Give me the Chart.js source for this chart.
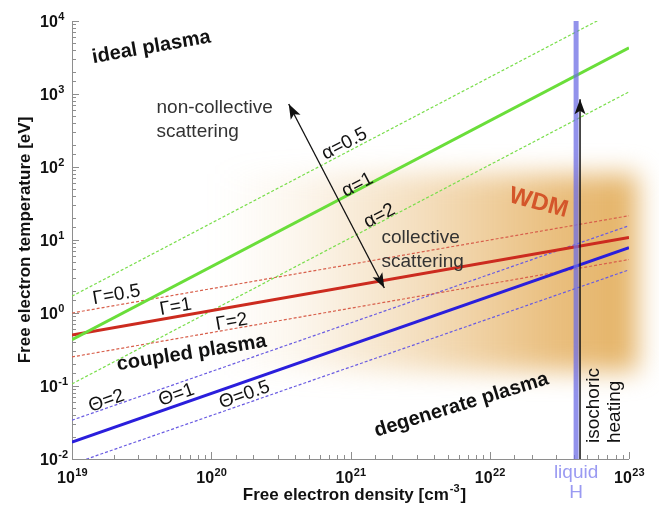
<!DOCTYPE html>
<html>
<head>
<meta charset="utf-8">
<script src="https://cdn.jsdelivr.net/npm/chart.js@4.4.1/dist/chart.umd.min.js"></script>
<style>
  html, body { margin: 0; padding: 0; background: #fff; }
  #wrap { position: relative; width: 659px; height: 508px; }
</style>
</head>
<body>
<div id="wrap"><canvas id="wdmChart"></canvas></div>
<script>
// WDM phase diagram: free electron temperature vs density, log-log

// density end points of the parameter lines [cm^-3]
const densityEnds = [1e19, 1e23];

// scattering parameter alpha (green) [eV]
const alphaHalf = [1.7, 17000];
const alphaOne = [0.43, 4300];
const alphaTwo = [0.107, 1070];

// coupling parameter Gamma (red)
const gammaHalf = [1.0, 21.5];
const gammaOne = [0.5, 10.8];
const gammaTwo = [0.25, 5.4];

// degeneracy parameter Theta (blue)
const thetaTwo = [0.034, 15.7];
const thetaOne = [0.017, 7.85];
const thetaHalf = [0.0085, 3.9];

// liquid hydrogen + isochoric heating path
const liquidN = [4.17e22, 4.17e22];
const liquidT = [0.01, 10000];
const heatingN = [4.45e22, 4.45e22];
const heatingT = [0.01, 850];

// scattering regime arrow
const regimeN = [3.6e20, 1.75e21];
const regimeT = [730, 2.2];

// WDM shaded region
const wdmN = [1.1e20, 1.15e23];
const wdmT = [0.16, 80];

// tick labels (powers of ten)
const xTickExp = [19, 20, 21, 22, 23];
const yTickExp = [-2, -1, 0, 1, 2, 3, 4];

const FONT = '"Liberation Sans", Arial, sans-serif';

function pts(xs, ys) { return xs.map((x, i) => ({ x: x, y: ys[i] })); }

function series(label, xs, ys, color, width, dash) {
  return { label, data: pts(xs, ys), borderColor: color, borderWidth: width, borderDash: dash || [],
           showLine: true, pointRadius: 0, fill: false, borderCapStyle: 'butt' };
}

// text notes, positions as log10(n), log10(T)
const notes = [
  { t: 'ideal plasma', lx: 19.57, ly: 3.64, rot: -10, f: 'bold 20px' },
  { t: 'non-collective', lx: 19.607, ly: 2.74, f: '19px', align: 'left', base: 'alphabetic', c: '#333' },
  { t: 'scattering', lx: 19.607, ly: 2.411, f: '19px', align: 'left', base: 'alphabetic', c: '#333' },
  { t: 'α=0.5', lx: 20.957, ly: 2.315, rot: -27.7, f: '19px' },
  { t: 'α=1', lx: 21.05, ly: 1.753, rot: -27.7, f: '19px' },
  { t: 'α=2', lx: 21.208, ly: 1.329, rot: -27.7, f: '19px' },
  { t: 'collective', lx: 21.223, ly: 0.959, f: '19px', align: 'left', base: 'alphabetic', c: '#333' },
  { t: 'scattering', lx: 21.223, ly: 0.63, f: '19px', align: 'left', base: 'alphabetic', c: '#333' },
  { t: 'WDM', lx: 22.35, ly: 1.507, rot: 15, f: 'bold 24px', c: '#d4562a' },
  { t: 'Γ=0.5', lx: 19.32, ly: 0.247, rot: -10, f: '19px' },
  { t: 'Γ=1', lx: 19.744, ly: 0.082, rot: -10, f: '19px' },
  { t: 'Γ=2', lx: 20.146, ly: -0.123, rot: -10, f: '19px' },
  { t: 'coupled plasma', lx: 19.859, ly: -0.548, rot: -9, f: 'bold 20px' },
  { t: 'Θ=2', lx: 19.248, ly: -1.205, rot: -19.3, f: '19px' },
  { t: 'Θ=1', lx: 19.751, ly: -1.123, rot: -19.3, f: '19px' },
  { t: 'Θ=0.5', lx: 20.239, ly: -1.123, rot: -19.3, f: '19px' },
  { t: 'degenerate plasma', lx: 21.797, ly: -1.26, rot: -17, f: 'bold 20px' },
  { t: 'isochoric', lx: 22.788, ly: -1.781, rot: -90, f: '19px', align: 'left', base: 'alphabetic' },
  { t: 'heating', lx: 22.938, ly: -1.781, rot: -90, f: '19px', align: 'left', base: 'alphabetic' },
  { t: 'liquid', lx: 22.62, ly: -2.26, f: '19px', base: 'alphabetic', c: '#9a9af2' },
  { t: 'H', lx: 22.62, ly: -2.534, f: '19px', base: 'alphabetic', c: '#9a9af2' }
];

const isMajor = v => Math.abs(Math.log10(v) - Math.round(Math.log10(v))) < 1e-6;

function arrowHead(ctx, x0, y0, x1, y1) {
  const a = Math.atan2(y1 - y0, x1 - x0), L = 15, W = 5.5;
  ctx.save();
  ctx.translate(x1, y1); ctx.rotate(a);
  ctx.beginPath();
  ctx.moveTo(0, 0); ctx.lineTo(-L, -W); ctx.lineTo(-L + 3.5, 0); ctx.lineTo(-L, W); ctx.closePath();
  ctx.fillStyle = '#111'; ctx.fill();
  ctx.restore();
}

const decor = {
  id: 'decor',
  beforeDatasetsDraw(chart) {
    const ctx = chart.ctx, xs = chart.scales.x, ys = chart.scales.y;
    const { left, right, top, bottom } = chart.chartArea;
    // WDM glow
    const x0 = xs.getPixelForValue(wdmN[0]), x1 = xs.getPixelForValue(wdmN[1]);
    const y0 = ys.getPixelForValue(wdmT[1]), y1 = ys.getPixelForValue(wdmT[0]);
    ctx.save();
    ctx.filter = 'blur(13px)';
    const g = ctx.createLinearGradient(x0, 0, x1, 0);
    g.addColorStop(0, 'rgba(230,180,105,0)');
    g.addColorStop(0.2, 'rgba(230,180,105,0.12)');
    g.addColorStop(0.5, 'rgba(230,180,105,0.45)');
    g.addColorStop(0.8, 'rgba(230,180,105,0.85)');
    g.addColorStop(1, 'rgba(228,178,100,1)');
    ctx.fillStyle = g;
    ctx.fillRect(x0, y0, x1 - x0, y1 - y0);
    ctx.restore();

    // axes with inward ticks
    ctx.save();
    ctx.strokeStyle = '#8e8e8e';
    ctx.lineWidth = 1;
    ctx.beginPath();
    ctx.moveTo(left + 0.5, top); ctx.lineTo(left + 0.5, bottom + 0.5); ctx.lineTo(right, bottom + 0.5);
    xs.ticks.forEach(t => {
      const px = Math.round(xs.getPixelForValue(t.value)) + 0.5, len = isMajor(t.value) ? 7 : 4;
      ctx.moveTo(px, bottom); ctx.lineTo(px, bottom - len);
    });
    ys.ticks.forEach(t => {
      const py = Math.round(ys.getPixelForValue(t.value)) + 0.5, len = isMajor(t.value) ? 7 : 4;
      ctx.moveTo(left, py); ctx.lineTo(left + len, py);
    });
    ctx.stroke();
    ctx.restore();
  },
  afterDatasetsDraw(chart) {
    const ctx = chart.ctx, xs = chart.scales.x, ys = chart.scales.y;
    // arrow heads
    const heat = chart.getDatasetMeta(0).data;
    arrowHead(ctx, heat[0].x, heat[0].y, heat[1].x, heat[1].y);
    const reg = chart.getDatasetMeta(1).data;
    arrowHead(ctx, reg[0].x, reg[0].y, reg[1].x, reg[1].y);
    arrowHead(ctx, reg[1].x, reg[1].y, reg[0].x, reg[0].y);

    // notes
    notes.forEach(n => {
      const px = xs.getPixelForValue(Math.pow(10, n.lx)), py = ys.getPixelForValue(Math.pow(10, n.ly));
      ctx.save();
      ctx.translate(px, py);
      ctx.rotate((n.rot || 0) * Math.PI / 180);
      ctx.font = n.f + ' ' + FONT;
      ctx.fillStyle = n.c || '#111';
      ctx.textAlign = n.align || 'center';
      ctx.textBaseline = n.base || 'middle';
      ctx.fillText(n.t, 0, 0);
      ctx.restore();
    });
  },
  afterDraw(chart) {
    const ctx = chart.ctx, xs = chart.scales.x, ys = chart.scales.y;
    const { left, right, top, bottom } = chart.chartArea;
    ctx.save();
    ctx.fillStyle = '#111';
    ctx.textBaseline = 'alphabetic';
    ctx.textAlign = 'left';
    const big = 'bold 16px ' + FONT, small = 'bold 11px ' + FONT;
    xTickExp.forEach(e => {
      const px = xs.getPixelForValue(Math.pow(10, e));
      ctx.font = big; const wb = ctx.measureText('10').width;
      ctx.font = small; const ws = ctx.measureText(String(e)).width;
      const sx = px - (wb + ws) / 2;
      ctx.font = big; ctx.fillText('10', sx, bottom + 24);
      ctx.font = small; ctx.fillText(String(e), sx + wb + 0.5, bottom + 17);
    });
    yTickExp.forEach(e => {
      const py = ys.getPixelForValue(Math.pow(10, e));
      ctx.font = big; const wb = ctx.measureText('10').width;
      ctx.fillText('10', 40, py + 6);
      ctx.font = small; ctx.fillText(String(e), 40 + wb + 0.5, py - 1);
    });

    // x title
    const t1 = 'Free electron density [cm', sup = '-3', t2 = ']';
    const tf = 'bold 17px ' + FONT, sf = 'bold 11px ' + FONT;
    ctx.font = tf; const w1 = ctx.measureText(t1).width, w3 = ctx.measureText(t2).width;
    ctx.font = sf; const w2 = ctx.measureText(sup).width;
    let sx = (left + right) / 2 + 3 - (w1 + w2 + w3) / 2;
    ctx.font = tf; ctx.fillText(t1, sx, bottom + 41);
    ctx.font = sf; ctx.fillText(sup, sx + w1 + 1, bottom + 33);
    ctx.font = tf; ctx.fillText(t2, sx + w1 + w2 + 2, bottom + 41);

    // y title
    ctx.save();
    ctx.translate(30, (top + bottom) / 2);
    ctx.rotate(-Math.PI / 2);
    ctx.textAlign = 'center';
    ctx.font = tf;
    ctx.fillText('Free electron temperature [eV]', 0, 0);
    ctx.restore();
    ctx.restore();
  }
};

const datasets = [
  series('isochoric heating', heatingN, heatingT, '#111', 1.5),
  series('scattering regime', regimeN, regimeT, '#111', 1.3),
  series('liquid H', liquidN, liquidT, 'rgba(110,110,228,0.75)', 5),
  series('α=1', densityEnds, alphaOne, '#6ade3a', 3),
  series('Γ=1', densityEnds, gammaOne, '#cc2b1f', 3),
  series('Θ=1', densityEnds, thetaOne, '#2a1edc', 3),
  series('α=0.5', densityEnds, alphaHalf, '#7ade4c', 1.2, [3, 2]),
  series('α=2', densityEnds, alphaTwo, '#7ade4c', 1.2, [3, 2]),
  series('Γ=0.5', densityEnds, gammaHalf, '#d8604c', 1.2, [3, 2]),
  series('Γ=2', densityEnds, gammaTwo, '#d8604c', 1.2, [3, 2]),
  series('Θ=2', densityEnds, thetaTwo, '#6a5ce2', 1.2, [3, 2]),
  series('Θ=0.5', densityEnds, thetaHalf, '#6a5ce2', 1.2, [3, 2])
];

const hiddenAxis = {
  ticks: { display: false },
  grid: { display: false, drawTicks: false },
  border: { display: false },
  title: { display: false }
};

new Chart(document.getElementById('wdmChart'), {
  type: 'scatter',
  data: { datasets },
  options: {
    responsive: true,
    maintainAspectRatio: false,
    animation: false,
    layout: { padding: { left: 72, right: 30, top: 21, bottom: 49 } },
    plugins: { legend: { display: false }, tooltip: { enabled: false } },
    scales: {
      x: Object.assign({ type: 'logarithmic', min: 1e19, max: 1e23 }, hiddenAxis),
      y: Object.assign({ type: 'logarithmic', min: 1e-2, max: 1e4 }, hiddenAxis)
    }
  },
  plugins: [decor]
});
</script>
</body>
</html>
